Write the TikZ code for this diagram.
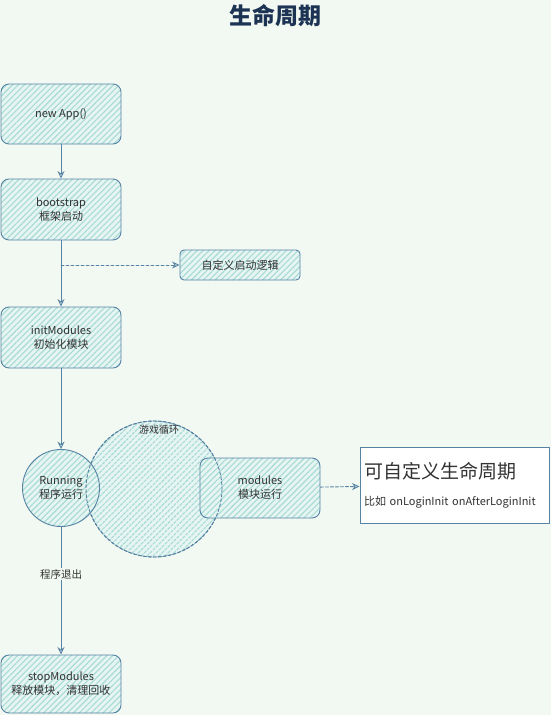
\documentclass[tikz,border=0pt]{standalone}
\usepackage{fontspec}
\setmainfont{Noto Sans CJK SC}
\usetikzlibrary{arrows.meta,patterns.meta}
\definecolor{bg}{RGB}{242,249,242}
\definecolor{edge}{RGB}{86,130,163}
\definecolor{hatch}{RGB}{168,219,214}
\definecolor{tint}{RGB}{230,245,241}
\definecolor{ink}{RGB}{51,51,51}
\definecolor{titleink}{RGB}{29,51,84}
\begin{document}
\begin{tikzpicture}[x=1pt, y=-1pt, line join=round, line cap=round, >={Stealth[open,length=7.5pt,width=7pt]}]
	\tikzset{every node/.style={text=ink, font=\fontsize{11}{14}\selectfont},
		sketch/.style={draw=edge, line width=0.9pt, preaction={fill=tint}, pattern={Lines[angle=45,distance=4.2pt,line width=1.1pt]}, pattern color=hatch},
		stepbox/.style={sketch, rounded corners=8pt, minimum width=120pt, minimum height=60pt, align=center, inner sep=0pt},
		flow/.style={draw=edge, line width=0.9pt, ->},
		hint/.style={draw=edge, line width=0.9pt, dash pattern=on 3pt off 2pt, ->}}
	\fill[bg] (0,0) rectangle (551,715);
	\useasboundingbox (0,0) rectangle (551,715);
	\node[text=titleink, font=\fontsize{23}{26}\selectfont\bfseries] (title) at (275,16) {生命周期};
	% main line
	\node[stepbox] (app) at (61,114) {new App()};
	\node[stepbox, minimum height=61pt] (boot) at (61,209.5) {bootstrap\\框架启动};
	\node[stepbox, minimum height=30pt, rounded corners=4pt] (logic) at (240,265) {自定义启动逻辑};
	\node[stepbox, minimum height=61pt] (init) at (61,337.5) {initModules\\初始化模块};
	% game loop
	\node[sketch, dash pattern=on 3pt off 2pt, circle, minimum size=136pt] (loop) at (154,489) {};
	\node[sketch, circle, minimum size=77pt, align=center, inner sep=0pt] (run) at (61,488) {Running\\程序运行};
	\node[stepbox] (mods) at (260,488) {modules\\模块运行};
	\draw[draw=edge, line width=0.9pt, dash pattern=on 3pt off 2pt] (loop.center) circle[radius=68];
	\node[font=\fontsize{10}{12}\selectfont] (looplabel) at (159,430) {游戏循环};
	\node[draw=edge, line width=0.9pt, fill=white, minimum width=189pt, minimum height=76pt, text width=181pt, align=left, inner xsep=4pt] (note) at (454.5,485)
		{\fontsize{19}{22}\selectfont 可自定义生命周期\\[13pt]\fontsize{11}{13}\selectfont 比如 onLoginInit onAfterLoginInit};
	\node[stepbox, minimum height=58pt] (stop) at (61,684) {stopModules\\释放模块，清理回收};
	% connectors
	\coordinate (fork) at (boot.south |- logic);
	\draw[flow] (app) -- (boot);
	\draw[flow] (boot) -- (init);
	\draw[hint] (fork) -- (logic);
	\draw[flow] (init) -- (run);
	\draw[hint] (mods) -- (note);
	\draw[flow] (run) -- node[pos=0.37, fill=bg, inner sep=1pt, font=\fontsize{10.5}{12}\selectfont] (quit) {程序退出} (stop);
\end{tikzpicture}
\end{document}
